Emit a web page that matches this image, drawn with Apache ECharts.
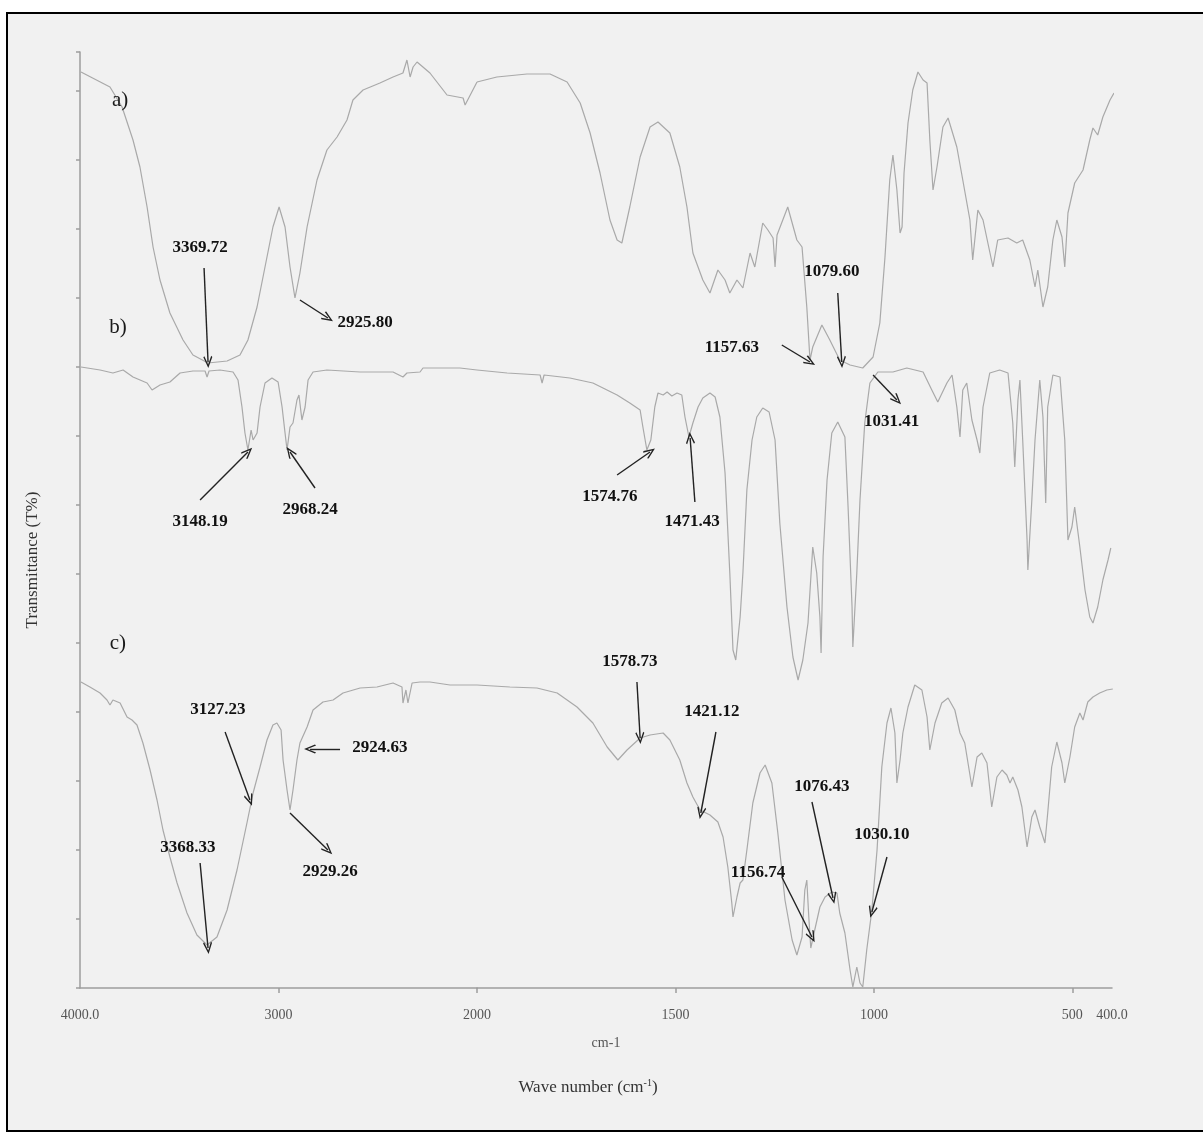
<!DOCTYPE html>
<html><head><meta charset="utf-8">
<script src="https://cdn.jsdelivr.net/npm/echarts@6/dist/echarts.min.js"></script>
<style>html,body{margin:0;padding:0;background:#fff}#c{width:1203px;height:1133px}</style>
</head><body><div id="c"></div>
<script>
// ---- spectrum a) ----
const wnA = [3995,3849,3788,3733,3698,3662,3632,3597,3547,3481,3431,3355,3259,3194,3154,3108,3058,3028,2997,2967,2942,2917,2892,2856,2806,2756,2705,2655,2625,2574,2489,2423,2373,2353,2337,2322,2302,2237,2151,2070,2060,2000,1950,1874,1816,1773,1740,1715,1690,1665,1647,1635,1615,1589,1564,1544,1514,1489,1471,1456,1431,1413,1393,1375,1363,1345,1330,1312,1300,1280,1267,1254,1249,1244,1217,1194,1181,1169,1161,1154,1131,1111,1086,1060,1028,1002,985,972,960,952,942,934,929,924,914,902,889,876,866,859,851,841,826,813,791,776,758,751,738,725,700,688,662,640,625,607,594,587,574,562,549,539,526,519,511,494,473,456,448,436,423,405,395];
const tA = [91.6,90.1,88.1,84.8,82.1,78.1,74.1,70.8,67.5,64.8,63.3,62.5,62.7,63.3,64.8,68.1,73.1,76.1,78.1,76.1,72.1,69.0,71.5,76.1,80.8,83.8,85.1,86.8,88.8,89.8,90.5,91.1,91.5,92.8,91.1,92.1,92.6,91.5,89.3,89.0,88.3,90.6,91.1,91.4,91.4,90.6,88.5,85.5,81.5,76.8,74.8,74.5,78.1,83.1,86.1,86.6,85.5,82.1,78.1,73.5,70.8,69.5,71.8,70.8,69.5,70.8,70.0,73.5,72.1,76.5,75.8,75.0,72.1,75.3,78.1,74.8,74.1,68.1,62.8,64.1,66.3,64.8,62.8,62.3,62.0,63.1,66.5,73.1,80.8,83.3,79.8,75.5,76.1,81.5,86.5,89.8,91.6,90.8,90.5,84.8,79.8,82.1,86.1,87.0,84.1,80.8,76.8,72.8,77.8,76.8,72.1,74.8,75.0,74.5,74.8,72.8,70.1,71.8,68.1,70.1,74.8,76.8,75.1,72.1,77.5,80.5,81.8,84.8,86.0,85.3,87.1,88.8,89.5];
// ---- spectrum b) ----
const wnB = [3995,3899,3834,3783,3733,3662,3637,3597,3547,3496,3431,3370,3360,3350,3295,3229,3204,3184,3169,3154,3138,3128,3108,3093,3068,3033,3002,2982,2967,2957,2942,2927,2907,2897,2882,2866,2851,2826,2756,2589,2423,2373,2353,2287,2272,2086,2000,1924,1841,1836,1831,1766,1708,1647,1615,1589,1582,1572,1562,1552,1544,1531,1521,1509,1496,1484,1476,1466,1456,1443,1431,1413,1400,1388,1375,1363,1355,1348,1337,1330,1320,1307,1295,1280,1264,1249,1237,1219,1204,1191,1179,1166,1154,1144,1136,1133,1128,1118,1106,1091,1073,1065,1055,1053,1043,1035,1023,1010,990,952,917,876,854,839,816,803,791,783,776,766,753,740,733,725,708,683,662,650,645,637,632,625,614,612,602,594,582,574,567,562,549,531,519,511,501,494,481,468,456,448,436,423,410,403];
const tB = [62.1,61.8,61.5,61.8,61.1,60.5,59.8,60.3,60.6,61.5,61.7,61.7,61.1,61.7,61.8,61.6,60.8,58.1,55.5,53.8,55.8,54.8,55.5,58.1,60.5,61.0,60.6,58.1,55.5,53.8,56.1,56.5,58.8,59.3,56.8,58.1,60.8,61.6,61.8,61.6,61.6,61.1,61.5,61.6,62.0,62.0,61.8,61.5,61.3,60.5,61.3,61.0,60.5,59.3,58.5,57.8,56.1,53.8,54.8,58.1,59.5,59.3,59.6,59.2,59.5,59.3,57.1,55.1,56.5,58.1,59.0,59.5,59.1,57.1,51.5,41.5,33.8,32.8,37.1,41.5,49.8,54.8,57.1,58.0,57.6,54.8,46.5,38.1,33.1,30.8,32.8,36.5,44.1,41.5,37.1,33.5,43.1,50.8,55.5,56.6,55.1,48.1,38.1,34.1,41.5,48.8,56.5,60.5,61.6,61.6,62.0,61.6,59.8,58.6,60.5,61.3,58.1,55.1,59.8,60.5,56.8,54.8,53.5,58.1,61.5,61.8,61.5,56.5,52.1,58.8,60.8,54.8,44.8,41.8,48.8,54.8,60.8,57.1,48.5,58.1,61.3,61.1,54.8,44.8,46.1,48.1,44.1,39.8,37.1,36.5,38.1,40.8,42.8,44.0];
// ---- spectrum c) ----
const wnC = [3995,3950,3899,3864,3849,3834,3798,3763,3738,3713,3683,3647,3612,3582,3547,3511,3461,3411,3360,3310,3259,3209,3159,3128,3093,3058,3028,3008,2987,2977,2957,2942,2927,2907,2892,2856,2826,2776,2725,2675,2589,2504,2423,2378,2373,2358,2348,2327,2287,2237,2136,2000,1917,1849,1798,1748,1708,1672,1645,1622,1589,1564,1531,1514,1489,1471,1456,1438,1413,1393,1380,1368,1358,1355,1345,1337,1330,1320,1305,1287,1274,1257,1242,1224,1206,1194,1181,1174,1169,1164,1159,1149,1136,1123,1106,1093,1086,1073,1060,1053,1043,1035,1028,1018,1005,992,980,967,957,947,942,934,927,914,897,879,866,859,846,829,813,796,783,771,753,740,728,715,703,690,677,665,657,650,637,627,614,602,594,582,569,562,552,539,526,519,506,494,481,473,461,448,431,413,398];
const tC = [30.6,30.1,29.5,28.8,28.3,28.8,28.5,27.1,26.8,26.3,24.5,21.8,18.8,15.8,13.1,10.5,7.5,5.3,4.3,5.1,7.8,11.8,16.5,19.5,22.1,24.8,26.3,26.5,25.8,22.8,19.8,17.8,19.8,22.8,24.5,26.1,27.8,28.6,28.8,29.5,30.0,30.1,30.5,30.1,28.5,29.8,28.5,30.5,30.6,30.6,30.3,30.3,30.1,30.0,29.5,28.1,26.5,24.1,22.8,23.8,25.0,25.3,25.5,24.8,22.8,20.5,19.1,17.8,17.3,16.6,15.1,12.1,8.5,7.1,9.1,10.5,10.8,13.8,18.5,21.5,22.3,20.5,15.5,8.8,4.8,3.3,5.1,9.8,10.8,7.1,4.0,5.8,8.1,9.1,9.6,9.5,7.5,5.5,1.8,0.1,2.1,0.5,0.1,3.8,7.8,13.8,22.1,26.5,28.0,25.5,20.5,22.8,25.5,28.1,30.3,29.8,27.1,23.8,26.5,28.5,29.0,27.8,25.5,24.5,20.1,23.1,23.5,22.5,18.1,21.1,21.8,21.3,20.5,21.1,19.8,18.1,14.1,17.1,17.8,16.1,14.5,17.5,22.1,24.6,22.5,20.5,23.1,26.1,27.5,26.8,28.6,29.1,29.5,29.8,29.9];

// ---- axis ticks ----
const tickValues = [4000,3000,2000,1500,1000,500,400];
const tickText = ['4000.0','3000','2000','1500','1000','500','400.0'];

// ---- trace labels ----
const traceNames = ['a)','b)','c)'];
const traceNameWn = [3798,3809,3809];
const traceNameT = [88.8,66.1,34.5];

// ---- peak annotations ----
const annText = ['3369.72','2925.80','1157.63','1079.60','1031.41','3148.19','2968.24','1574.76','1471.43','3127.23','2924.63','2929.26','3368.33','1578.73','1421.12','1156.74','1076.43','1030.10'];
const annTextWn = [3395,2564,1358,1106,955,3395,2841,1665,1458,3305,2489,2740,3456,1615,1408,1292,1131,980];
const annTextT = [74.0,66.5,64.0,71.6,56.6,46.6,47.8,49.1,46.6,27.8,24.0,11.6,14.0,32.6,27.6,11.5,20.1,15.3];
const arrowFromWn = [3375,2892,1232,1091,1002,3395,2816,1647,1451,3269,2690,2942,3395,1597,1398,1232,1156,967];
const arrowFromT = [72.0,68.8,64.3,69.5,61.3,48.8,50.0,51.3,48.6,25.6,23.9,17.5,12.5,30.6,25.6,11.1,18.6,13.1];
const arrowToWn = [3355,2751,1161,1081,942,3154,2942,1564,1463,3144,2841,2751,3355,1589,1436,1156,1103,1005];
const arrowToT = [62.6,67.0,62.6,62.6,58.8,53.6,53.6,53.6,55.0,18.8,23.9,13.8,4.0,25.0,17.5,5.1,9.0,7.6];

const SERIF = "'Liberation Serif', 'DejaVu Serif', serif";
const LINE_COLOR = '#a9a9a9';
const ARROW = 'path://M5,0 L10,10 L8.8,11 L5,3.2 L1.2,11 L0,10 Z';

function half(wn, t, hi) {
  const out = [];
  for (let i = 0; i < wn.length; i++) {
    if (hi ? wn[i] >= 2000 : wn[i] <= 2000) out.push([wn[i], t[i]]);
  }
  return out;
}
function labelFor(v) { const i = tickValues.indexOf(v); return i >= 0 ? tickText[i] : ''; }

function annotations(hi) {
  const pts = [], lines = [];
  for (let i = 0; i < annText.length; i++) {
    if ((annTextWn[i] > 2000) !== hi) continue;
    pts.push({ name: annText[i], coord: [annTextWn[i], annTextT[i]] });
    lines.push([{ coord: [arrowFromWn[i], arrowFromT[i]] }, { coord: [arrowToWn[i], arrowToT[i]] }]);
  }
  if (hi) {
    for (let i = 0; i < traceNames.length; i++) {
      pts.push({ name: traceNames[i], coord: [traceNameWn[i], traceNameT[i]],
        label: { fontWeight: 'normal', fontSize: 21, color: '#1a1a1a' } });
    }
  }
  return {
    markPoint: {
      symbol: 'circle', symbolSize: 0, silent: true, animation: false,
      label: { show: true, position: 'inside', formatter: '{b}', color: '#111',
        fontFamily: SERIF, fontWeight: 'bold', fontSize: 17 },
      data: pts
    },
    markLine: {
      silent: true, animation: false, symbol: ['none', ARROW], symbolSize: [9, 12],
      label: { show: false },
      lineStyle: { color: '#222', width: 1.4, type: 'solid' },
      emphasis: { disabled: true },
      data: lines
    }
  };
}

function trace(wn, t, hi, withAnn) {
  const s = {
    type: 'line', xAxisIndex: hi ? 0 : 1, yAxisIndex: hi ? 0 : 1,
    data: half(wn, t, hi), showSymbol: false, symbol: 'none', clip: false,
    lineStyle: { color: LINE_COLOR, width: 1.2 }, silent: true, z: 3
  };
  if (withAnn) Object.assign(s, annotations(hi));
  return s;
}

const axisLineStyle = { color: '#9d9d9d', width: 1.5 };
const xLabel = { fontFamily: SERIF, fontSize: 14, color: '#555', margin: 20, formatter: labelFor };

const option = {
  animation: false,
  backgroundColor: '#ffffff',
  graphic: [
    { type: 'rect', z: -100, shape: { x: 7, y: 13, width: 1205, height: 1118 },
      style: { fill: '#f1f1f1', stroke: '#000', lineWidth: 2 } },
    { type: 'text', x: 33, y: 560, rotation: Math.PI / 2,
      style: { text: 'Transmittance (T%)', font: "17px " + SERIF, fill: '#333', align: 'center', verticalAlign: 'middle' } },
    { type: 'text', x: 606, y: 1043,
      style: { text: 'cm-1', font: "14px " + SERIF, fill: '#555', align: 'center', verticalAlign: 'middle' } },
    { type: 'text', x: 588, y: 1088,
      style: { text: 'Wave number (cm{sup|-1})', font: "17px " + SERIF, fill: '#333', align: 'center', verticalAlign: 'middle',
        rich: { sup: { fontSize: 10, fontFamily: SERIF, fill: '#333', padding: [0, 0, 9, 0] } } } }
  ],
  grid: [
    { left: 80, top: 52, width: 397, height: 936 },
    { left: 477, top: 52, width: 635, height: 936 }
  ],
  xAxis: [
    { type: 'value', gridIndex: 0, min: 2000, max: 4000, inverse: true,
      axisLine: { show: true, lineStyle: axisLineStyle },
      axisTick: { show: true, length: 5, customValues: [3000, 2000], lineStyle: axisLineStyle },
      axisLabel: Object.assign({ customValues: [4000, 3000] }, xLabel),
      splitLine: { show: false } },
    { type: 'value', gridIndex: 1, min: 400, max: 2000, inverse: true,
      axisLine: { show: true, lineStyle: axisLineStyle },
      axisTick: { show: true, length: 5, customValues: [1500, 1000, 500], lineStyle: axisLineStyle },
      axisLabel: Object.assign({ customValues: [2000, 1500, 1000, 500, 400] }, xLabel),
      splitLine: { show: false } }
  ],
  yAxis: [
    { type: 'value', gridIndex: 0, min: 0, max: 93.6, interval: 6.9,
      axisLine: { show: true, lineStyle: axisLineStyle },
      axisTick: { show: true, length: 4, lineStyle: axisLineStyle },
      axisLabel: { show: false }, splitLine: { show: false } },
    { type: 'value', gridIndex: 1, min: 0, max: 93.6, show: false, splitLine: { show: false } }
  ],
  series: [
    trace(wnA, tA, true, true), trace(wnA, tA, false, true),
    trace(wnB, tB, true, false), trace(wnB, tB, false, false),
    trace(wnC, tC, true, false), trace(wnC, tC, false, false)
  ]
};
const chart = echarts.init(document.getElementById('c'), null, { renderer: 'canvas' });
chart.setOption(option);
</script>
</body></html>
